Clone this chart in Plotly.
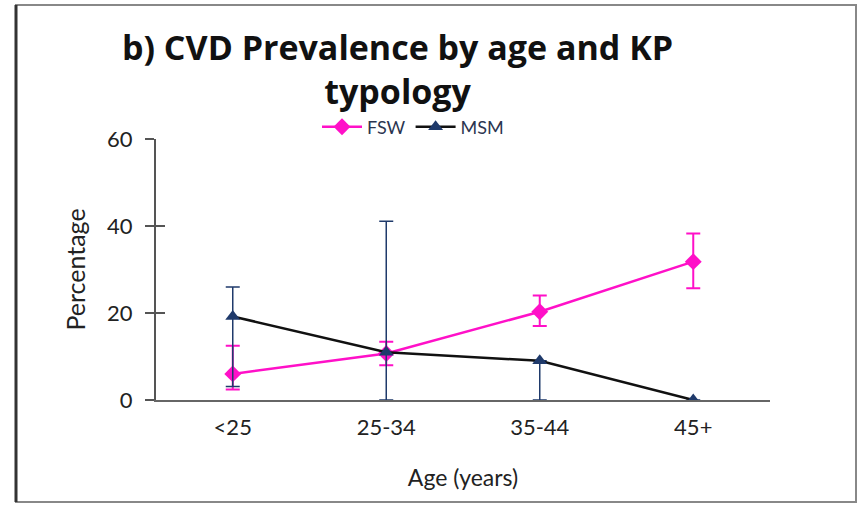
import plotly.graph_objects as go

categories = ["<25", "25-34", "35-44", "45+"]
fsw = [6.0, 10.7, 20.3, 31.8]
fsw_upper = [12.5, 13.4, 24.0, 38.3]
fsw_lower = [2.4, 8.0, 17.0, 25.7]
msm = [19.2, 11.0, 9.0, 0.0]
msm_upper = [26.0, 41.1, 9.0, 0.0]
msm_lower = [3.1, 0.0, 0.0, 0.0]
y_ticks = [0, 20, 40, 60]
title_lines = ["b) CVD Prevalence by age and KP", "typology"]

FONT = "Lato, 'Open Sans', sans-serif"
TFONT = "'Open Sans', Lato, sans-serif"
PINK = "#FF10C8"
NAVY = "#1F3A6B"

W, H = 859, 507
L, R, T, B = 156, 89, 139, 107
PW, PH = W - L - R, H - T - B


def px(x):
    return (x - L) / PW


def py(y):
    return (H - B - y) / PH


fig = go.Figure()
fig.add_trace(go.Scatter(
    x=categories, y=fsw, name="FSW", mode="lines+markers",
    line=dict(color=PINK, width=2.5),
    marker=dict(symbol="diamond", size=13, color=PINK),
    error_y=dict(type="data", symmetric=False,
                 array=[u - v for u, v in zip(fsw_upper, fsw)],
                 arrayminus=[v - l for v, l in zip(fsw, fsw_lower)],
                 color=PINK, thickness=2, width=7),
))
fig.add_trace(go.Scatter(
    x=categories, y=msm, name="MSM", mode="lines+markers",
    line=dict(color="#111111", width=2.5),
    marker=dict(symbol="triangle-up", size=13, color=NAVY),
    error_y=dict(type="data", symmetric=False,
                 array=[u - v for u, v in zip(msm_upper, msm)],
                 arrayminus=[v - l for v, l in zip(msm, msm_lower)],
                 color=NAVY, thickness=1.5, width=7),
))

fig.update_layout(
    width=W, height=H,
    margin=dict(l=L, r=R, t=T, b=B, autoexpand=False),
    paper_bgcolor="white", plot_bgcolor="white",
    font=dict(family=FONT, color="#222222"),
    legend=dict(orientation="h", x=413 / W, xanchor="center", xref="container",
                y=1 - 127 / H, yanchor="middle", yref="container",
                font=dict(size=18, color="#2b3550"), bgcolor="rgba(0,0,0,0)",
                itemwidth=40, tracegroupgap=0),
    xaxis=dict(type="category", range=[-0.5, 3.5], showgrid=False,
               showline=True, linecolor="#666666", linewidth=2,
               ticks="", tickfont=dict(size=22, color="#222222"),
               ticklabelstandoff=7,
               title=dict(text="Age (years)", font=dict(size=23, color="#222222"), standoff=30),
               zeroline=False),
    yaxis=dict(range=[0, 60], tickvals=y_ticks, showgrid=False, zeroline=False,
               showline=True, linecolor="#555555", linewidth=2,
               ticks="outside", ticklen=9, tickwidth=2, tickcolor="#555555",
               tickfont=dict(size=22, color="#222222"), ticklabelstandoff=8,
               title=dict(text="Percentage", font=dict(size=25, color="#222222"), standoff=14)),
    yaxis2=dict(range=[0, 60], tickvals=y_ticks, overlaying="y", anchor="x", side="left",
                showgrid=False, zeroline=False, showline=False,
                ticks="inside", ticklen=9, tickwidth=2, tickcolor="#555555",
                showticklabels=False),
    showlegend=True,
)

fig.add_trace(go.Scatter(x=categories, y=[None] * 4, yaxis="y2", showlegend=False,
                         hoverinfo="skip"))

fig.add_annotation(text="<b>" + "<br>".join(title_lines) + "</b>", xref="paper", yref="paper",
                   x=px(397), y=py(69), xanchor="center", yanchor="middle", showarrow=False,
                   align="center", font=dict(size=34, color="#111111", family=TFONT))

fig.add_shape(type="rect", xref="paper", yref="paper",
              x0=px(16), x1=px(856), y0=py(502), y1=py(5),
              line=dict(color="#888888", width=2), layer="below")
fig.add_shape(type="line", xref="paper", yref="paper",
              x0=px(16), x1=px(16), y0=py(502), y1=py(5),
              line=dict(color="#333333", width=3))

fig.write_html("out.html", config={"displayModeBar": False},
               post_script="document.body.style.margin='0px';")
